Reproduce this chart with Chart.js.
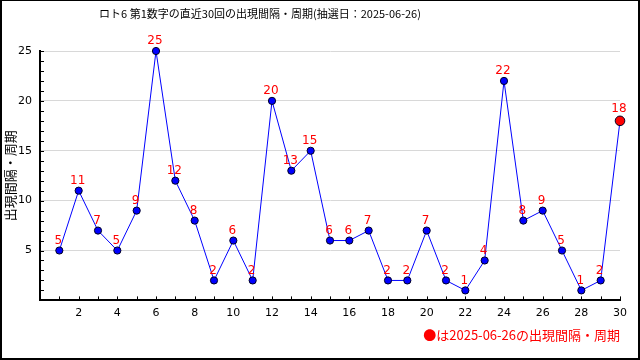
<!DOCTYPE html>
<html>
<head>
<meta charset="utf-8">
<script src="https://cdn.jsdelivr.net/npm/chart.js@4.4.1/dist/chart.umd.min.js"></script>
<style>
  html, body { margin: 0; padding: 0; background: #fff; }
  canvas { display: block; }
</style>
</head>
<body>
<canvas id="interval_chart" width="640" height="360"></canvas>
<script>
// 直近30回の出現間隔
var draws = [1, 2, 3, 4, 5, 6, 7, 8, 9, 10, 11, 12, 13, 14, 15, 16, 17, 18, 19, 20, 21, 22, 23, 24, 25, 26, 27, 28, 29, 30];
var intervals = [5, 11, 7, 5, 9, 25, 12, 8, 2, 6, 2, 20, 13, 15, 6, 6, 7, 2, 2, 7, 2, 1, 4, 22, 8, 9, 5, 1, 2, 18];
var titleText = 'ロト6 第1数字の直近30回の出現間隔・周期(抽選日：2025-06-26)';
var axisTitle = '出現間隔・周期';
var noteText = '●は2025-06-26の出現間隔・周期';

document.addEventListener("DOMContentLoaded", function() {
    var statisticsItem = document.getElementById("interval_chart");
    var last = intervals.length - 1;

    var points = [];
    for (var i = 0; i < draws.length; i++) {
        points.push({ x: draws[i], y: intervals[i] });
    }

    // 数値ラベル・内向き目盛り・外枠
    var extras = {
        id: 'extras',
        afterLayout: function(chart) {
            // タイトルは少し左寄せ
            if (chart.titleBlock) {
                chart.titleBlock.right = 518;
            }
        },
        afterDatasetsDraw: function(chart) {
            var ctx = chart.ctx;
            var xs = chart.scales.x, ys = chart.scales.y;
            var area = chart.chartArea;
            ctx.save();
            ctx.strokeStyle = '#000';
            ctx.lineWidth = 1;
            ctx.beginPath();
            for (var v = 1; v <= 25; v++) {
                var py = Math.round(ys.getPixelForValue(v)) + 0.5;
                ctx.moveTo(area.left, py);
                ctx.lineTo(area.left + 4, py);
            }
            for (var k = 1; k <= 30; k++) {
                var px = Math.round(xs.getPixelForValue(k)) + 0.5;
                ctx.moveTo(px, area.bottom);
                ctx.lineTo(px, area.bottom - 4);
            }
            ctx.stroke();

            var meta = chart.getDatasetMeta(0);
            ctx.fillStyle = '#ff0000';
            ctx.font = '12px "DejaVu Sans"';
            ctx.textAlign = 'center';
            ctx.textBaseline = 'bottom';
            meta.data.forEach(function(pt, idx) {
                var off = idx === last ? 6 : 4;
                ctx.fillText(String(intervals[idx]), pt.x - 1, pt.y - off);
            });
            ctx.restore();
        },
        afterDraw: function(chart) {
            var ctx = chart.ctx;
            var w = chart.width, h = chart.height;
            ctx.save();
            ctx.fillStyle = '#000';
            ctx.fillRect(0, 0, w, 1);
            ctx.fillRect(0, 0, 2, h);
            ctx.fillRect(w - 2, 0, 2, h);
            ctx.fillRect(0, h - 2, w, 2);
            ctx.restore();
        }
    };

    var data = {
        datasets: [{
            label: axisTitle,
            data: points,
            borderColor: '#0000ff',
            borderWidth: 1,
            backgroundColor: '#0000ff',
            pointBackgroundColor: intervals.map(function(v, i) { return i === last ? '#ff0000' : '#0000ff'; }),
            pointBorderColor: '#000022',
            pointBorderWidth: 1,
            pointRadius: intervals.map(function(v, i) { return i === last ? 4.8 : 3.6; }),
            tension: 0,
            clip: false
        }]
    };

    var options = {
        responsive: false,
        animation: false,
        devicePixelRatio: 1,
        layout: { padding: { left: 2, right: 20, top: 0, bottom: 0 } },
        plugins: {
            legend: { display: false },
            tooltip: { enabled: false },
            title: {
                display: true,
                text: titleText,
                color: '#000',
                font: { family: '"Noto Sans CJK JP"', size: 11, weight: 'normal', lineHeight: 1.2 },
                padding: { top: 7, bottom: 30.8 }
            },
            subtitle: {
                display: true,
                position: 'bottom',
                align: 'end',
                text: noteText,
                color: '#ff0000',
                font: { family: '"Noto Sans CJK JP"', size: 13, weight: 'normal', lineHeight: 1.2 },
                padding: { top: 4, bottom: 17 }
            }
        },
        scales: {
            x: {
                type: 'linear',
                min: 0,
                max: 30,
                afterFit: function(scale) { scale.height = 23; },
                grid: { display: false, drawTicks: false },
                border: { display: true, color: '#000', width: 2 },
                ticks: {
                    stepSize: 2,
                    padding: 6,
                    color: '#000',
                    font: { family: '"DejaVu Sans"', size: 11 },
                    maxRotation: 0,
                    callback: function(v) { return v === 0 ? '' : v; }
                }
            },
            y: {
                min: 0,
                max: 25,
                afterFit: function(scale) { scale.width = 38; },
                grid: { color: '#d8d8d8', drawTicks: false },
                border: { display: true, color: '#000', width: 2 },
                title: {
                    display: true,
                    text: axisTitle,
                    color: '#000',
                    font: { family: '"Noto Sans CJK JP"', size: 13, weight: 'normal' },
                    padding: 0
                },
                ticks: {
                    stepSize: 5,
                    padding: 8,
                    color: '#000',
                    font: { family: '"DejaVu Sans"', size: 11 },
                    callback: function(v) { return v === 0 ? '' : v; }
                }
            }
        }
    };

    new Chart(statisticsItem, {
        type: 'line',
        data: data,
        options: options,
        plugins: [extras]
    });
});
</script>
</body>
</html>
